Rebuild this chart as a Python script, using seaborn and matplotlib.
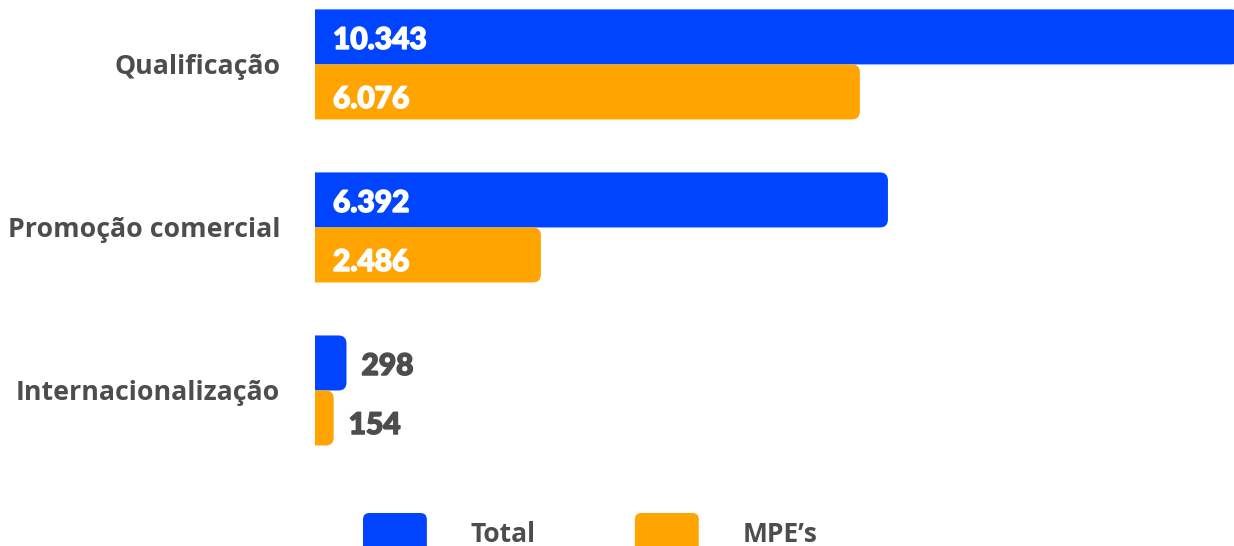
import matplotlib
matplotlib.use("Agg")
import matplotlib.pyplot as plt
import matplotlib.patheffects as pe
import pandas as pd
import seaborn as sns
from matplotlib.path import Path
from matplotlib.patches import PathPatch, FancyBboxPatch, Patch
from matplotlib.legend_handler import HandlerPatch

# Chart data
categories = ["Qualificação", "Promoção comercial", "Internacionalização"]
series_names = ["Total", "MPE’s"]
total_values = [10343, 6392, 298]
mpe_values = [6076, 2486, 154]

BLUE = "#0044FF"
ORANGE = "#FFA400"
GRAY = "#4D4D4D"
LABEL_FONT = ["Open Sans", "DejaVu Sans"]
VALUE_FONT = ["Lato", "DejaVu Sans"]

df = pd.DataFrame({
    "categoria": categories * 2,
    "serie": [series_names[0]] * len(categories) + [series_names[1]] * len(categories),
    "valor": total_values + mpe_values,
})

W, H, DPI = 1234, 546, 100
fig = plt.figure(figsize=(W / DPI, H / DPI), dpi=DPI)
ax_left, ax_bottom, ax_w, ax_h = 315, 74, 919, 472
ax = fig.add_axes([ax_left / W, ax_bottom / H, ax_w / W, ax_h / H])

sns.barplot(data=df, y="categoria", x="valor", hue="serie",
            palette=[BLUE, ORANGE], saturation=1, width=0.675,
            orient="h", legend=False, ax=ax)

xmax = max(total_values)
ymin, ymax = -0.395, 2.50
ax.set_xlim(0, xmax)
ax.set_ylim(ymax, ymin)

px_x = ax_w / xmax               # pixels per data unit (x)
px_y = ax_h / (ymax - ymin)      # pixels per data unit (y)

cap_px = 5      # rounded cap beyond the value
rad_px = 8      # corner radius
cap = cap_px / px_x
rx = rad_px / px_x
ry = rad_px / px_y


def rounded_bar(x0, y0, w, h, color):
    x1 = x0 + w + cap
    y1 = y0 + h
    verts = [(x0, y0), (x1 - rx, y0), (x1, y0), (x1, y0 + ry),
             (x1, y1 - ry), (x1, y1), (x1 - rx, y1), (x0, y1), (x0, y0)]
    codes = [Path.MOVETO, Path.LINETO, Path.CURVE3, Path.CURVE3,
             Path.LINETO, Path.CURVE3, Path.CURVE3, Path.LINETO, Path.CLOSEPOLY]
    return PathPatch(Path(verts, codes), facecolor=color, edgecolor="none",
                     clip_on=True)


bars = list(ax.patches)
n = len(categories)
for i, bar in enumerate(bars):
    x0, y0 = bar.get_x(), bar.get_y()
    w, h = bar.get_width(), bar.get_height()
    color = bar.get_facecolor()
    bar.remove()
    ax.add_patch(rounded_bar(x0, y0, w, h, color))

    label = f"{int(round(w)):,}".replace(",", ".")
    # value labels sit slightly below the bar centre
    yc = y0 + h / 2 + (3 if i < n else 7) / px_y
    if w * px_x > 100:
        tx, tcolor = x0 + 18 / px_x, "white"
    else:
        tx, tcolor = x0 + w + cap + 15 / px_x, GRAY
    ax.text(tx, yc, label, color=tcolor, fontsize=21.5, family=VALUE_FONT,
            weight="black", va="center", ha="left",
            path_effects=[pe.withStroke(linewidth=1.1, foreground=tcolor)])

for s in ax.spines.values():
    s.set_visible(False)
ax.set_xlabel("")
ax.set_ylabel("")
ax.set_xticks([])
ax.tick_params(axis="y", length=0, pad=25)
ax.set_yticks(range(len(categories)))
ax.set_yticklabels(categories, fontsize=19.3, color=GRAY, family=LABEL_FONT,
                   weight="bold")
ax.set_facecolor("white")


class RoundedHandle(HandlerPatch):
    def create_artists(self, legend, orig_handle, xdescent, ydescent,
                       width, height, fontsize, trans):
        p = FancyBboxPatch((-xdescent, -ydescent), width, height,
                           boxstyle=f"round,pad=0,rounding_size={0.16 * height}",
                           facecolor=orig_handle.get_facecolor(),
                           edgecolor="none", transform=trans)
        return [p]


handles = [Patch(facecolor=BLUE), Patch(facecolor=ORANGE)]
leg = fig.legend(handles, series_names, loc="upper left",
                 bbox_to_anchor=(363 / W, 1 - 513 / H), ncol=2, frameon=False,
                 borderpad=0, borderaxespad=0, handlelength=2.42,
                 handleheight=2.0, handletextpad=1.67, columnspacing=3.75,
                 prop={"family": LABEL_FONT, "weight": "bold", "size": 19},
                 handler_map={Patch: RoundedHandle()})
for t in leg.get_texts():
    t.set_color(GRAY)

fig.savefig("out.png", dpi=DPI, facecolor="white")
